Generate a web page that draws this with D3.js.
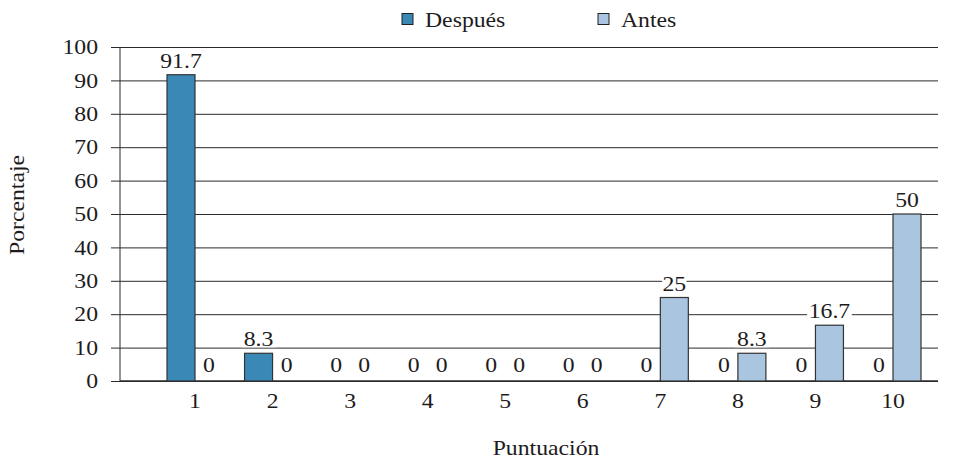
<!DOCTYPE html>
<html>
<head>
<meta charset="utf-8">
<script src="https://cdn.jsdelivr.net/npm/d3@7"></script>
<style>
  html, body { margin: 0; padding: 0; background: #fff; }
  svg { display: block; }
  svg text { font-family: "Liberation Serif", "Times New Roman", Times, Tinos, "DejaVu Serif", serif !important; fill: #1e1b1c; }
</style>
</head>
<body>
<svg id="chart" width="959" height="459" font-family="Liberation Serif, Times New Roman, serif"></svg>
<script>
const categories = ["1","2","3","4","5","6","7","8","9","10"];
const seriesNames = ["Después", "Antes"];
const despues = [91.7, 8.3, 0, 0, 0, 0, 0, 0, 0, 0];
const antes = [0, 0, 0, 0, 0, 0, 25, 8.3, 16.7, 50];
const yTicks = [0, 10, 20, 30, 40, 50, 60, 70, 80, 90, 100];
const colors = ["#3a88b6", "#a9c5df"];

(function() {
const svg = d3.select("#chart");
const fontSize = 21, sx = 1.13;
const pLeft = 120, pRight = 938, pTop = 47, pBottom = 381;

const y = d3.scaleLinear().domain([0, 100]).range([pBottom, pTop]);
const step = (893 - 195) / 9;
const x = d3.scaleBand().domain(categories).range([195 - step / 2, 893 + step / 2]).padding(0);
const barW = 28;
const center = c => x(c) + x.bandwidth() / 2;

function label(g, px, py, txt, anchor, size) {
  return g.append("g").attr("transform", `translate(${px},${py})`)
    .append("text")
    .attr("transform", `scale(${sx},1)`)
    .attr("text-anchor", anchor || "middle")
    .attr("font-size", size || fontSize)
    .text(txt);
}

// gridlines
const grid = svg.append("g").attr("transform", `translate(${pLeft},0)`)
  .call(d3.axisLeft(y).tickValues(yTicks).tickSize(-(pRight - pLeft)).tickFormat(""));
grid.select(".domain").remove();
grid.selectAll("line").attr("stroke", "#2b2b2b").attr("stroke-width", 1);

// y axis
const yAxis = svg.append("g").attr("transform", `translate(${pLeft},0)`)
  .call(d3.axisLeft(y).tickValues(yTicks).tickSize(9).tickPadding(13));
yAxis.attr("font-family", null);
yAxis.select(".domain").attr("stroke", "#2b2b2b").attr("d", `M0,${pBottom}V${pTop}`);
yAxis.selectAll("line").attr("stroke", "#2b2b2b");
yAxis.selectAll("text")
  .attr("font-size", fontSize)
  .attr("transform", function() { return `translate(${d3.select(this).attr("x")},0) scale(${sx},1)`; })
  .attr("x", 0);

// x axis baseline
svg.append("line").attr("x1", pLeft).attr("x2", pRight).attr("y1", y(0)).attr("y2", y(0))
  .attr("stroke", "#2b2b2b").attr("stroke-width", 1.5);

// bars
const series = [despues, antes];
const barsG = svg.append("g");
const labelsG = svg.append("g");
series.forEach((vals, si) => {
  categories.forEach((c, i) => {
    const v = vals[i];
    const bx = center(c) - barW + si * barW;
    if (v > 0) {
      barsG.append("rect")
        .attr("x", bx).attr("y", y(v))
        .attr("width", barW).attr("height", y(0) - y(v))
        .attr("fill", colors[si]).attr("stroke", "#333").attr("stroke-width", 1.2);
    }
    const lx = bx + barW / 2, ly = y(v) - (v > 0 ? 7 : 9);
    const s = String(v);
    const w = s.length * 10 * sx * 0.9;
    if (v > 0) {
      labelsG.append("rect").attr("x", lx - w / 2 - 2).attr("y", ly - 15)
        .attr("width", w + 4).attr("height", 16).attr("fill", "#fff");
    }
    label(labelsG, lx, ly, s);
  });
});

// category labels
categories.forEach(c => label(svg, center(c), 408, c));

// axis titles
label(svg, 546, 455, "Puntuación");
svg.append("g").attr("transform", `translate(24,205) rotate(-90)`)
  .append("text").attr("transform", `scale(${sx},1)`)
  .attr("text-anchor", "middle").attr("font-size", fontSize).text("Porcentaje");

// legend
const legendX = [402, 598];
seriesNames.forEach((n, i) => {
  svg.append("rect").attr("x", legendX[i]).attr("y", 13.5).attr("width", 11).attr("height", 11)
    .attr("fill", colors[i]).attr("stroke", "#222").attr("stroke-width", 1);
  label(svg, legendX[i] + 23, 27, n, "start");
});
})();
</script>
</body>
</html>
